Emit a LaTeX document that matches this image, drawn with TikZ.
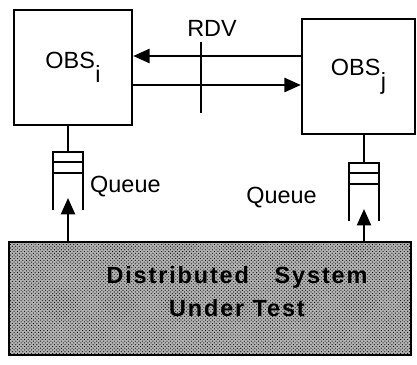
\documentclass[tikz,border=0pt]{standalone}
\usepackage{fontspec}
\setmainfont{Liberation Sans}
\usetikzlibrary{arrows.meta,patterns,positioning}

\tikzset{
  obsbox/.style={draw, line width=2pt, inner sep=0pt,
    minimum height=34.5mm, font=\fontsize{20}{24}\selectfont},
  msg/.style={line width=2pt, -{Triangle[length=14pt,width=12pt]}},
  txt/.style={inner sep=0pt, font=\fontsize{20}{24}\selectfont},
  queue/.pic={
    \draw[line width=2pt] (-15,58) -- (-15,0) -- (15,0) -- (15,58);
    \draw[line width=2pt] (-15,10) -- (15,10) (-15,21) -- (15,21);
    \coordinate (-top) at (0,0);
    \coordinate (-in) at (0,46);
    \coordinate (-east) at (15,35);
    \coordinate (-west) at (-15,35);
  }
}
\newcommand{\obs}[1]{OBS\kern0.02em\raisebox{-0.6em}{#1}}

\begin{document}
\begin{tikzpicture}[x=0.3mm, y=-0.3mm]
  \useasboundingbox (0,0) rectangle (417,364);

  % the two observers
  \node[obsbox, minimum width=35.4mm] (obsi) at (73,67.5) {\obs{i}};
  \node[obsbox, minimum width=33.9mm] (obsj) at (358.5,76.5) {\obs{j}};

  % rendez-vous between them
  \coordinate (rdvtop) at (201,42);
  \coordinate (rdvbot) at (201,113);
  \coordinate (m1) at (201,56);
  \coordinate (m2) at (201,85);
  \draw[line width=2pt] (rdvtop) -- (rdvbot);
  \node[txt, above=1.5mm of rdvtop, xshift=3.3mm] (rdv) {RDV};
  \draw[msg] (obsj.west |- m1) -- (obsi.east |- m1);
  \draw[msg] (obsi.east |- m2) -- (obsj.west |- m2);

  % system under test
  \node[draw, line width=2pt, minimum width=120.6mm, minimum height=33.9mm,
    preaction={fill=black!30}, pattern=crosshatch dots, pattern color=black]
    (sut) at (210,298.5) {};
  \node[inner sep=0pt, align=center,
    font=\fontsize{20}{28}\selectfont\bfseries\addfontfeature{LetterSpace=8}]
    (sutlabel) at ([xshift=8.1mm, yshift=2.1mm]sut.center)
    {Distributed\hspace{1.1em}System\\Under Test};

  % queues
  \pic (qi) at (68,152) {queue};
  \pic (qj) at (364,163) {queue};
  \draw[line width=2pt] (obsi.south -| qi-top) -- (qi-top);
  \draw[line width=2pt] (obsj.south -| qj-top) -- (qj-top);
  \draw[msg] (sut.north -| qi-in) -- (qi-in);
  \draw[msg] (sut.north -| qj-in) -- (qj-in);
  \node[txt, right=2.1mm of qi-east] (queuei) {Queue};
  \node[txt, left=9.6mm of qj-west] (queuej) {Queue};
\end{tikzpicture}
\end{document}
